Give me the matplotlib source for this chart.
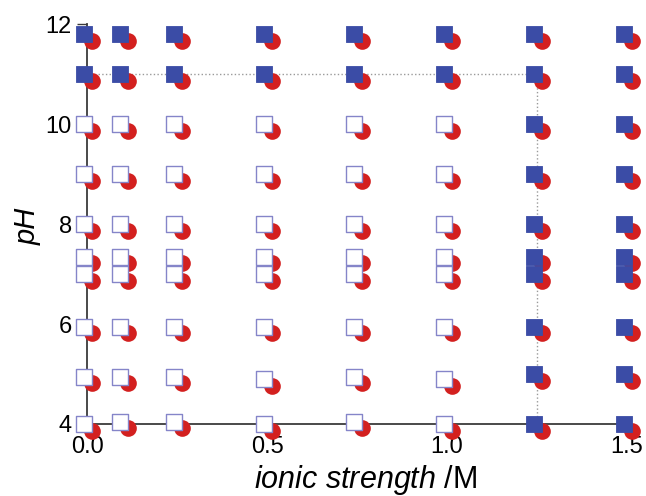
import matplotlib
matplotlib.use('Agg')
import matplotlib.pyplot as plt
from matplotlib.transforms import offset_copy

plt.rcParams['font.family'] = ['Liberation Sans', 'DejaVu Sans']
plt.rcParams['mathtext.fontset'] = 'custom'
plt.rcParams['mathtext.rm'] = 'Liberation Sans'
plt.rcParams['mathtext.it'] = 'Liberation Sans:italic'

# ionic strength values (M) of each column
ionic = [0.0, 0.1, 0.25, 0.5, 0.75, 1.0, 1.25, 1.5]
# pH rows measured at every ionic strength
ph_rows = [11.8, 11.0, 10.0, 9.0, 8.0, 7.35, 7.0, 5.95]
# the two lowest rows drift a little from column to column
ph_row5 = [4.95, 4.95, 4.95, 4.9, 4.95, 4.9, 5.0, 5.0]
ph_row4 = [4.0, 4.05, 4.05, 4.0, 4.05, 4.0, 4.0, 4.0]

# boundary drawn as dotted line
border_x = [0.0, 1.25, 1.25]
border_y = [11.0, 11.0, 4.0]

blue = '#3b4ca6'
edge = '#8585c9'
red = '#d3201f'

fig = plt.figure(figsize=(6.46, 4.96), dpi=100)
ax = fig.add_axes([87 / 646, 1 - 424 / 496, 540 / 646, 400 / 496])

xs, ys = [], []
for i, x in enumerate(ionic):
    for p in ph_rows + [ph_row5[i], ph_row4[i]]:
        xs.append(x)
        ys.append(p)

filled = [(p >= 10.9 or x >= 1.2) for x, p in zip(xs, ys)]

sq_tr = offset_copy(ax.transData, fig=fig, x=-3, y=0, units='dots')
ci_tr = offset_copy(ax.transData, fig=fig, x=4.5, y=-6.5, units='dots')

ax.plot(border_x, border_y, color='#9a9a9a', linestyle=':', linewidth=1.0, zorder=1)

ax.scatter(xs, ys, s=12 ** 2, marker='o', color=red, linewidths=0,
           transform=ci_tr, clip_on=False, zorder=3)

fx = [x for x, f in zip(xs, filled) if f]
fy = [y for y, f in zip(ys, filled) if f]
ox = [x for x, f in zip(xs, filled) if not f]
oy = [y for y, f in zip(ys, filled) if not f]
ax.scatter(fx, fy, s=11.8 ** 2, marker='s', facecolor=blue, edgecolor=blue,
           linewidths=0.6, transform=sq_tr, clip_on=False, zorder=4)
ax.scatter(ox, oy, s=11.4 ** 2, marker='s', facecolor='white', edgecolor=edge,
           linewidths=1.0, transform=sq_tr, clip_on=False, zorder=4)

ax.set_xlim(0, 1.5)
ax.set_ylim(4, 12)
ax.set_xticks([0.0, 0.5, 1.0, 1.5])
ax.set_xticklabels(['0.0', '0.5', '1.0', '1.5'])
ax.set_yticks([4, 6, 8, 10, 12])

for s in ['top', 'right']:
    ax.spines[s].set_visible(False)
for s in ['left', 'bottom']:
    ax.spines[s].set_color('#3a3a3a')
    ax.spines[s].set_linewidth(1.3)

ax.tick_params(axis='both', labelsize=17, length=7, width=1.0, color='#3a3a3a')
ax.tick_params(axis='x', pad=1.5)
ax.tick_params(axis='y', pad=4)

fig.text(366 / 646, 8 / 496, r'$\mathit{ionic\ strength\ /}\mathrm{M}$',
         fontsize=22, ha='center', va='baseline')
fig.text(28 / 646, 1 - 226 / 496, 'pH', style='italic', rotation=90,
         fontsize=21, ha='center', va='center')

plt.savefig('out.png', dpi=100)
